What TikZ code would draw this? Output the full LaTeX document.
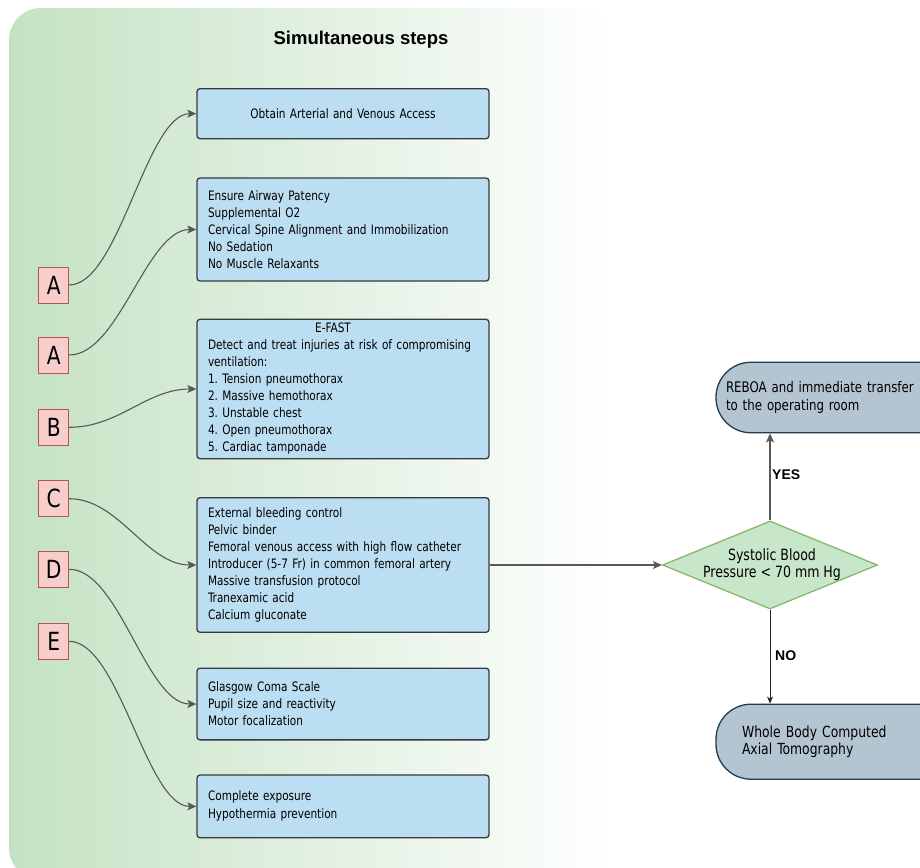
\documentclass[tikz,border=0pt]{standalone}
\usepackage{fontspec}
\setmainfont{DejaVu Sans Condensed}[FakeStretch=0.9]
\newfontfamily\arialf{Liberation Sans}
\usetikzlibrary{shapes.geometric,arrows.meta}
\frenchspacing
\definecolor{bgleft}{RGB}{196,226,195}
\definecolor{boxfill}{RGB}{188,222,242}
\definecolor{boxdraw}{RGB}{54,57,61}
\definecolor{letfill}{RGB}{248,206,204}
\definecolor{letdraw}{RGB}{184,84,80}
\definecolor{diafill}{RGB}{200,230,201}
\definecolor{diadraw}{RGB}{130,179,102}
\definecolor{endfill}{RGB}{180,197,210}
\definecolor{enddraw}{RGB}{35,60,80}
\definecolor{conncol}{RGB}{88,88,88}
\tikzset{
  stepbox/.style={draw=boxdraw, fill=boxfill, line width=1.3pt, rounded corners=3pt,
    minimum width=292pt, inner xsep=11pt, inner ysep=0pt, text width=270pt, align=left,
    font=\fontsize{13}{17}\selectfont},
  letbox/.style={draw=letdraw, fill=letfill, line width=1pt, minimum width=30pt, minimum height=36pt,
    inner sep=0pt, font=\fontsize{25}{26}\selectfont},
  endbox/.style={draw=enddraw, fill=endfill, line width=1.3pt, rounded corners=35pt,
    minimum width=240pt, align=left, font=\fontsize{15.3}{17}\selectfont, inner ysep=0pt},
  conn/.style={draw=conncol, line width=1.1pt, -{Stealth[length=9pt,width=8pt,inset=2pt]}},
  lbl/.style={font=\arialf\bfseries\fontsize{14}{16}\selectfont, inner sep=0pt}
}
\begin{document}
\begin{tikzpicture}[x={(1pt,0)}, y={(0,-1pt)}]
\useasboundingbox (0,0) rectangle (920,867);
\clip (0,0) rectangle (920,867);
% background
\shade[left color=bgleft, right color=white, rounded corners=32pt] (9,8) rectangle (615,880);
\node[font=\arialf\bfseries\fontsize{18.5}{20}\selectfont] (title) at (361,40) {Simultaneous steps};
% step boxes
\node[stepbox, minimum height=50pt, align=center] (b1) at (343,113.7) {Obtain Arterial and Venous Access};
\node[stepbox, minimum height=103pt] (b2) at (343,229.5) {Ensure Airway Patency\\Supplemental O2\\Cervical Spine Alignment and Immobilization\\No Sedation\\No Muscle Relaxants};
\node[stepbox, minimum height=139.4pt] (b3) at (343,389) {\makebox[250pt][c]{E-FAST}\\Detect and treat injuries at risk of compromising\\ventilation:\\1. Tension pneumothorax\\2. Massive hemothorax\\3. Unstable chest\\4. Open pneumothorax\\5. Cardiac tamponade};
\node[stepbox, minimum height=134.6pt] (b4) at (343,565) {External bleeding control\\Pelvic binder\\Femoral venous access with high flow catheter\\Introducer (5-7 Fr) in common femoral artery\\Massive transfusion protocol\\Tranexamic acid\\Calcium gluconate};
\node[stepbox, minimum height=71.7pt] (b5) at (343,704) {Glasgow Coma Scale\\Pupil size and reactivity\\Motor focalization};
\node[stepbox, minimum height=62.7pt, font=\fontsize{13}{18}\selectfont] (b6) at (343,806.4) {Complete exposure\\Hypothermia prevention};
% letters
\node[letbox] (la1) at (53.7,285) {A};
\node[letbox] (la2) at (53.7,355) {A};
\node[letbox] (lb) at (53.7,427.3) {B};
\node[letbox] (lc) at (53.7,498.7) {C};
\node[letbox] (ld) at (53.7,569.3) {D};
\node[letbox] (le) at (53.7,641.3) {E};
% curves
\draw[conn] (la1.east) .. controls +(50,0) and +(-50,0) .. (b1.west);
\draw[conn] (la2.east) .. controls +(50,0) and +(-50,0) .. (b2.west);
\draw[conn] (lb.east) .. controls +(50,0) and +(-50,0) .. (b3.west);
\draw[conn] (lc.east) .. controls +(50,0) and +(-50,0) .. (b4.west);
\draw[conn] (ld.east) .. controls +(50,0) and +(-50,0) .. (b5.west);
\draw[conn] (le.east) .. controls +(50,0) and +(-50,0) .. (b6.west);
% decision
\node[diamond, draw=diadraw, fill=diafill, line width=1.2pt, minimum width=215pt, minimum height=88pt, inner sep=0pt] (dia) at (770,565) {};
\node[align=center, font=\fontsize{15.5}{17}\selectfont, inner sep=0pt] (diatext) at (772,565) {Systolic Blood\\Pressure < 70 mm Hg};
\draw[conn] (b4.east) -- (dia.west);
\node[endbox, minimum height=70.5pt, inner xsep=10pt, text width=220pt, font=\fontsize{14.6}{18}\selectfont] (reboa) at (836,397.5) {REBOA and immediate transfer\\to the operating room};
\node[endbox, minimum height=75pt, inner xsep=26pt, text width=188pt] (wbct) at (836,741.7) {Whole Body Computed\\Axial Tomography};
\draw[conn] (dia.north) -- (dia.north |- reboa.south);
\draw[draw=black!85, line width=0.8pt, -{Stealth[length=7pt,width=6pt,inset=2pt]}] (dia.south) -- (dia.south |- wbct.north);
\node[lbl, anchor=west] (yes) at (772,474.3) {YES};
\node[lbl, anchor=west] (no) at (775,656) {NO};
\end{tikzpicture}
\end{document}
